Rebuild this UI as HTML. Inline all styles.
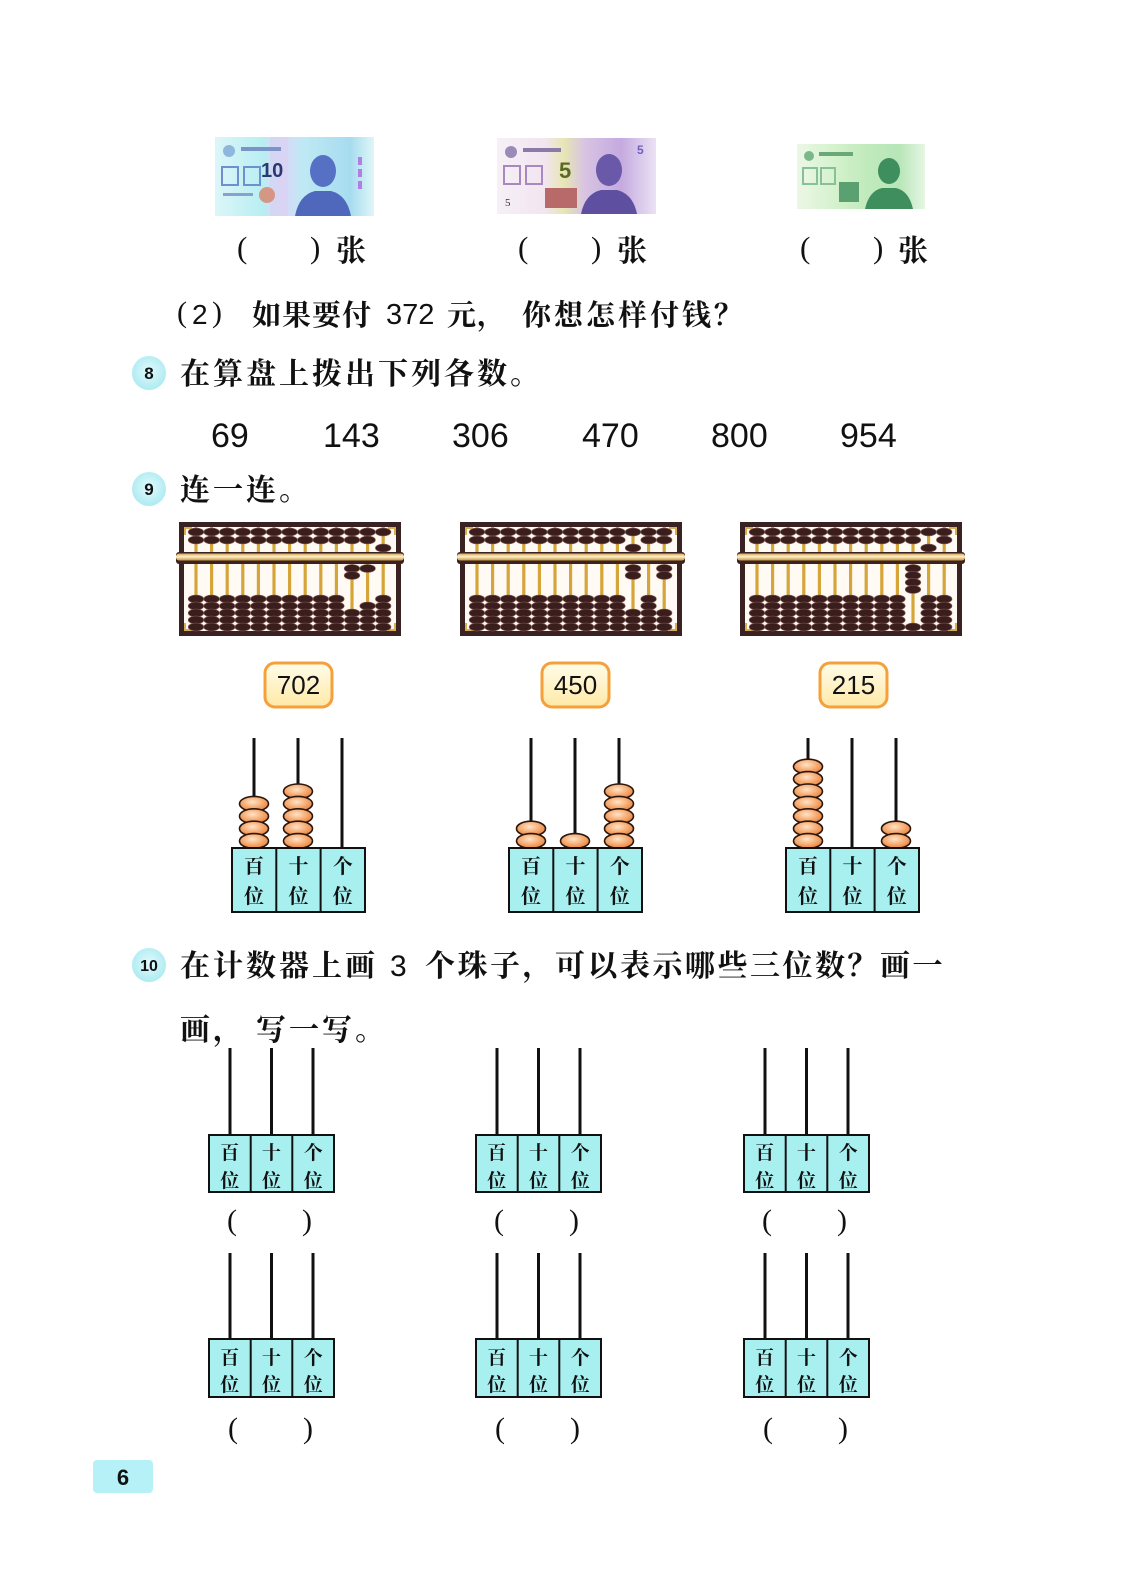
<!DOCTYPE html>
<html><head><meta charset="utf-8"><style>
html,body{margin:0;padding:0;background:#fff;}
body{width:1128px;height:1582px;position:relative;overflow:hidden;}
svg{position:absolute;left:0;top:0;}
.c{font-family:"Liberation Serif","Noto Serif CJK SC",serif;font-weight:700;fill:#111;}
.s{font-family:"Liberation Sans",sans-serif;fill:#111;}
.p{font-family:"Liberation Serif",serif;fill:#111;}
</style></head><body>
<svg width="1128" height="1582" viewBox="0 0 1128 1582">
<defs>
<linearGradient id="bm" x1="0" y1="0" x2="0" y2="1"><stop offset="0" stop-color="#d4a651"/><stop offset="0.45" stop-color="#fff1cc"/><stop offset="1" stop-color="#c8963e"/></linearGradient>
<radialGradient id="cb" cx="0.45" cy="0.38" r="0.65"><stop offset="0" stop-color="#ffe4c8"/><stop offset="0.55" stop-color="#f6ab72"/><stop offset="1" stop-color="#e5803c"/></radialGradient>
<linearGradient id="bg" x1="0" y1="0" x2="0" y2="1"><stop offset="0" stop-color="#fffcea"/><stop offset="1" stop-color="#ffe9a6"/></linearGradient>
<radialGradient id="cir" cx="0.5" cy="0.45" r="0.6"><stop offset="0" stop-color="#e2fbfd"/><stop offset="1" stop-color="#a8e9f0"/></radialGradient>
<linearGradient id="n1" x1="0" y1="0" x2="1" y2="0"><stop offset="0" stop-color="#dcf6f8"/><stop offset="0.3" stop-color="#b9eef2"/><stop offset="0.42" stop-color="#dcd6f6"/><stop offset="0.55" stop-color="#bfe9f4"/><stop offset="0.85" stop-color="#a6dcef"/><stop offset="1" stop-color="#e0f6f8"/></linearGradient>
<linearGradient id="n2" x1="0" y1="0" x2="1" y2="0"><stop offset="0" stop-color="#f6f0f6"/><stop offset="0.3" stop-color="#f2e5f0"/><stop offset="0.42" stop-color="#e7e6b4"/><stop offset="0.55" stop-color="#d8c4e2"/><stop offset="0.78" stop-color="#c4aae0"/><stop offset="1" stop-color="#ebe2f4"/></linearGradient>
<linearGradient id="n3" x1="0" y1="0" x2="1" y2="0"><stop offset="0" stop-color="#ecf7e6"/><stop offset="0.3" stop-color="#d4f2cc"/><stop offset="0.55" stop-color="#c0eabc"/><stop offset="0.8" stop-color="#b8e6b8"/><stop offset="1" stop-color="#e6f6e4"/></linearGradient>
<ellipse id="b" cx="0" cy="0" rx="7.8" ry="4" fill="#3a1d1d" stroke="#8a605a" stroke-width="0.6"/>
<ellipse id="cbd" cx="0" cy="0" rx="14.5" ry="7.4" fill="url(#cb)" stroke="#2b160c" stroke-width="1.6"/>
<g id="rd"><use href="#b" y="10"/><use href="#b" y="18"/><use href="#b" y="77"/><use href="#b" y="84"/><use href="#b" y="91"/><use href="#b" y="98"/><use href="#b" y="105"/></g>
<g id="abase">
<rect x="0" y="0" width="222" height="114" fill="#3b2222"/>
<rect x="5" y="5" width="212" height="104" fill="#fffbf4"/>
<g fill="#d6a53a">
<rect x="15.4" y="5" width="3.2" height="104"/><rect x="31" y="5" width="3.2" height="104"/><rect x="46.6" y="5" width="3.2" height="104"/><rect x="62.2" y="5" width="3.2" height="104"/><rect x="77.8" y="5" width="3.2" height="104"/><rect x="93.4" y="5" width="3.2" height="104"/><rect x="109" y="5" width="3.2" height="104"/><rect x="124.6" y="5" width="3.2" height="104"/><rect x="140.2" y="5" width="3.2" height="104"/><rect x="155.8" y="5" width="3.2" height="104"/><rect x="171.4" y="5" width="3.2" height="104"/><rect x="187" y="5" width="3.2" height="104"/><rect x="202.6" y="5" width="3.2" height="104"/>
</g>
<rect x="-3" y="30" width="228" height="12" rx="3" fill="#3b2222"/>
<rect x="-3" y="31.5" width="228" height="7" rx="3" fill="url(#bm)"/>
<g fill="#d8ae55"><path d="M5 5h8v2h-6v6h-2z"/><path d="M217 5h-8v2h6v6h2z"/><path d="M5 109h8v-2h-6v-6h-2z"/><path d="M217 109h-8v-2h6v-6h2z"/></g>
<use href="#rd" x="17"/><use href="#rd" x="32.6"/><use href="#rd" x="48.2"/><use href="#rd" x="63.8"/><use href="#rd" x="79.4"/><use href="#rd" x="95"/><use href="#rd" x="110.6"/><use href="#rd" x="126.2"/><use href="#rd" x="141.8"/><use href="#rd" x="157.4"/>
</g>
</defs>

<!-- banknotes -->
<g transform="translate(215,137)">
<rect width="159" height="79" fill="url(#n1)"/>
<rect x="55" y="0" width="18" height="79" fill="#d8d0f4" opacity="0.6"/>
<circle cx="14" cy="14" r="6" fill="#8fb6dc"/>
<rect x="26" y="10" width="40" height="4" fill="#7b94c8"/>
<rect x="7" y="30" width="16" height="18" fill="none" stroke="#6f8fcf" stroke-width="2"/>
<rect x="29" y="30" width="16" height="18" fill="none" stroke="#6f8fcf" stroke-width="2"/>
<text x="46" y="40" font-family="Liberation Sans" font-weight="700" font-size="20" fill="#2a3a70">10</text>
<circle cx="52" cy="58" r="8" fill="#d8826a" opacity="0.8"/>
<rect x="8" y="56" width="30" height="3" fill="#8aa0d0"/>
<path d="M80 79 Q84 58 100 54 L116 54 Q132 58 136 79 Z" fill="#4f68bc"/>
<ellipse cx="108" cy="34" rx="13" ry="16" fill="#5670c4"/>
<rect x="143" y="20" width="4" height="8" fill="#b080e0"/><rect x="143" y="32" width="4" height="8" fill="#b080e0"/><rect x="143" y="44" width="4" height="8" fill="#b080e0"/>
</g>
<g transform="translate(497,138)">
<rect width="159" height="76" fill="url(#n2)"/>
<circle cx="14" cy="14" r="6" fill="#9a8ab8"/>
<rect x="26" y="10" width="38" height="4" fill="#8a7aa8"/>
<rect x="7" y="28" width="16" height="18" fill="none" stroke="#a888c0" stroke-width="2"/>
<rect x="29" y="28" width="16" height="18" fill="none" stroke="#a888c0" stroke-width="2"/>
<text x="62" y="40" font-family="Liberation Sans" font-weight="700" font-size="22" fill="#5a6a20">5</text>
<rect x="48" y="50" width="32" height="20" fill="#b86a6a"/>
<text x="8" y="68" font-family="Liberation Serif" font-size="11" fill="#333">5</text>
<path d="M84 76 Q88 56 104 52 L120 52 Q136 56 140 76 Z" fill="#5e4fa0"/>
<ellipse cx="112" cy="32" rx="13" ry="16" fill="#6a58a8"/>
<text x="140" y="16" font-family="Liberation Sans" font-weight="700" font-size="12" fill="#7060c0">5</text>
</g>
<g transform="translate(797,144)">
<rect width="128" height="65" fill="url(#n3)"/>
<circle cx="12" cy="12" r="5" fill="#7ab88a"/>
<rect x="22" y="8" width="34" height="4" fill="#6aa87a"/>
<rect x="6" y="24" width="14" height="16" fill="none" stroke="#88c098" stroke-width="2"/>
<rect x="24" y="24" width="14" height="16" fill="none" stroke="#88c098" stroke-width="2"/>
<rect x="42" y="38" width="20" height="20" fill="#5aa070"/>
<path d="M68 65 Q72 47 85 44 L99 44 Q112 47 116 65 Z" fill="#3f8e5e"/>
<ellipse cx="92" cy="27" rx="11" ry="13" fill="#3f8e5e"/>
</g>

<!-- ( ) 张 -->
<g class="p" font-size="31">
<text x="237" y="258">(</text><text x="310" y="258">)</text>
<text x="518" y="258">(</text><text x="591" y="258">)</text>
<text x="800" y="258">(</text><text x="873" y="258">)</text>
</g>
<g class="c" font-size="30">
<text x="336" y="261">张</text><text x="617" y="261">张</text><text x="898" y="261">张</text>
</g>

<!-- (2) row -->
<text class="p" font-size="30" x="177" y="322">(</text>
<text class="s" font-size="28" x="192" y="324">2</text>
<text class="p" font-size="30" x="212" y="322">)</text>
<text class="c" font-size="29" x="252 282 312 342" y="325">如果要付</text>
<text class="s" font-size="29" x="386" y="324">372</text>
<text class="c" font-size="29" x="447 477 522 554 586 618 650 682 714" y="325">元，你想怎样付钱？</text>

<!-- 8 -->
<circle cx="149" cy="373" r="17" fill="url(#cir)"/>
<text class="s" font-weight="700" font-size="17" x="149" y="379" text-anchor="middle">8</text>
<text class="c" font-size="30" x="180 213 246 279 312 345 378 411 444 477 510" y="384">在算盘上拨出下列各数。</text>

<g class="s" font-size="34">
<text x="211" y="447">69</text><text x="323" y="447">143</text><text x="452" y="447">306</text><text x="582" y="447">470</text><text x="711" y="447">800</text><text x="840" y="447">954</text>
</g>

<!-- 9 -->
<circle cx="149" cy="489" r="17" fill="url(#cir)"/>
<text class="s" font-weight="700" font-size="17" x="149" y="495" text-anchor="middle">9</text>
<text class="c" font-size="30" x="180 213 246 279" y="500">连一连。</text>

<!-- abacuses -->
<g transform="translate(179,522)">
<use href="#abase"/>
<use href="#b" x="173" y="10"/><use href="#b" x="173" y="18"/><use href="#b" x="173" y="46.5"/><use href="#b" x="173" y="53.5"/><use href="#b" x="173" y="91"/><use href="#b" x="173" y="98"/><use href="#b" x="173" y="105"/>
<use href="#b" x="188.6" y="10"/><use href="#b" x="188.6" y="18"/><use href="#b" x="188.6" y="46.5"/><use href="#b" x="188.6" y="84"/><use href="#b" x="188.6" y="91"/><use href="#b" x="188.6" y="98"/><use href="#b" x="188.6" y="105"/>
<use href="#b" x="204.2" y="10"/><use href="#b" x="204.2" y="26"/><use href="#b" x="204.2" y="77"/><use href="#b" x="204.2" y="84"/><use href="#b" x="204.2" y="91"/><use href="#b" x="204.2" y="98"/><use href="#b" x="204.2" y="105"/>
</g>
<g transform="translate(460,522)">
<use href="#abase"/>
<use href="#b" x="173" y="10"/><use href="#b" x="173" y="26"/><use href="#b" x="173" y="46.5"/><use href="#b" x="173" y="53.5"/><use href="#b" x="173" y="91"/><use href="#b" x="173" y="98"/><use href="#b" x="173" y="105"/>
<use href="#rd" x="188.6"/>
<use href="#b" x="204.2" y="10"/><use href="#b" x="204.2" y="18"/><use href="#b" x="204.2" y="46.5"/><use href="#b" x="204.2" y="53.5"/><use href="#b" x="204.2" y="91"/><use href="#b" x="204.2" y="98"/><use href="#b" x="204.2" y="105"/>
</g>
<g transform="translate(740,522)">
<use href="#abase"/>
<use href="#b" x="173" y="10"/><use href="#b" x="173" y="18"/><use href="#b" x="173" y="46.5"/><use href="#b" x="173" y="53.5"/><use href="#b" x="173" y="60.5"/><use href="#b" x="173" y="67.5"/><use href="#b" x="173" y="105"/>
<use href="#b" x="188.6" y="10"/><use href="#b" x="188.6" y="26"/><use href="#b" x="188.6" y="77"/><use href="#b" x="188.6" y="84"/><use href="#b" x="188.6" y="91"/><use href="#b" x="188.6" y="98"/><use href="#b" x="188.6" y="105"/>
<use href="#rd" x="204.2"/>
</g>

<g transform="translate(0,2)">
<!-- number badges -->
<g stroke="#f5a03a" stroke-width="3" fill="url(#bg)">
<rect x="265" y="661" width="67" height="44" rx="10"/>
<rect x="542" y="661" width="67" height="44" rx="10"/>
<rect x="820" y="661" width="67" height="44" rx="10"/>
</g>
<g class="s" font-size="26" text-anchor="middle">
<text x="298.5" y="692">702</text><text x="575.5" y="692">450</text><text x="853.5" y="692">215</text>
</g>

<!-- section 9 counters -->
<g stroke="#111" stroke-width="3">
<line x1="254" y1="736" x2="254" y2="846"/><line x1="298" y1="736" x2="298" y2="846"/><line x1="342" y1="736" x2="342" y2="846"/>
<line x1="531" y1="736" x2="531" y2="846"/><line x1="575" y1="736" x2="575" y2="846"/><line x1="619" y1="736" x2="619" y2="846"/>
<line x1="808" y1="736" x2="808" y2="846"/><line x1="852" y1="736" x2="852" y2="846"/><line x1="896" y1="736" x2="896" y2="846"/>
</g>
<g>
<use href="#cbd" x="254" y="801.8"/><use href="#cbd" x="254" y="814.2"/><use href="#cbd" x="254" y="826.6"/><use href="#cbd" x="254" y="839"/>
<use href="#cbd" x="298" y="789.4"/><use href="#cbd" x="298" y="801.8"/><use href="#cbd" x="298" y="814.2"/><use href="#cbd" x="298" y="826.6"/><use href="#cbd" x="298" y="839"/>
<use href="#cbd" x="531" y="826.6"/><use href="#cbd" x="531" y="839"/>
<use href="#cbd" x="575" y="839"/>
<use href="#cbd" x="619" y="789.4"/><use href="#cbd" x="619" y="801.8"/><use href="#cbd" x="619" y="814.2"/><use href="#cbd" x="619" y="826.6"/><use href="#cbd" x="619" y="839"/>
<use href="#cbd" x="808" y="764.6"/><use href="#cbd" x="808" y="777"/><use href="#cbd" x="808" y="789.4"/><use href="#cbd" x="808" y="801.8"/><use href="#cbd" x="808" y="814.2"/><use href="#cbd" x="808" y="826.6"/><use href="#cbd" x="808" y="839"/>
<use href="#cbd" x="896" y="826.6"/><use href="#cbd" x="896" y="839"/>
</g>
<g fill="#a8eff0" stroke="#111" stroke-width="2">
<rect x="232" y="846" width="133" height="64"/><line x1="276.3" y1="846" x2="276.3" y2="910"/><line x1="320.6" y1="846" x2="320.6" y2="910"/>
<rect x="509" y="846" width="133" height="64"/><line x1="553.3" y1="846" x2="553.3" y2="910"/><line x1="597.6" y1="846" x2="597.6" y2="910"/>
<rect x="786" y="846" width="133" height="64"/><line x1="830.3" y1="846" x2="830.3" y2="910"/><line x1="874.6" y1="846" x2="874.6" y2="910"/>
</g>
<g class="c" font-size="20" text-anchor="middle">
<text x="254" y="871">百</text><text x="254" y="901">位</text><text x="298.5" y="871">十</text><text x="298.5" y="901">位</text><text x="342.8" y="871">个</text><text x="342.8" y="901">位</text>
<text x="531" y="871">百</text><text x="531" y="901">位</text><text x="575.5" y="871">十</text><text x="575.5" y="901">位</text><text x="619.8" y="871">个</text><text x="619.8" y="901">位</text>
<text x="808" y="871">百</text><text x="808" y="901">位</text><text x="852.5" y="871">十</text><text x="852.5" y="901">位</text><text x="896.8" y="871">个</text><text x="896.8" y="901">位</text>
</g>
</g>

<!-- 10 -->
<circle cx="149" cy="965" r="17" fill="url(#cir)"/>
<text class="s" font-weight="700" font-size="16" x="149" y="971" text-anchor="middle">10</text>
<text class="c" font-size="30" x="180 213 246 279 312 345" y="976">在计数器上画</text>
<text class="s" font-size="30" x="390" y="976">3</text>
<text class="c" font-size="30" x="425 457.5 490 522.5 555 587.5 620 652.5 685 717.5 750 782.5 815 847.5 880 912.5" y="976">个珠子，可以表示哪些三位数？画一</text>
<text class="c" font-size="30" x="180 213 256 289 322 355" y="1040">画，写一写。</text>

<!-- section 10 counters -->
<g stroke="#111" stroke-width="3">
<line x1="230" y1="1048" x2="230" y2="1135"/><line x1="271.5" y1="1048" x2="271.5" y2="1135"/><line x1="313" y1="1048" x2="313" y2="1135"/>
<line x1="497" y1="1048" x2="497" y2="1135"/><line x1="538.5" y1="1048" x2="538.5" y2="1135"/><line x1="580" y1="1048" x2="580" y2="1135"/>
<line x1="765" y1="1048" x2="765" y2="1135"/><line x1="806.5" y1="1048" x2="806.5" y2="1135"/><line x1="848" y1="1048" x2="848" y2="1135"/>
<line x1="230" y1="1253" x2="230" y2="1339"/><line x1="271.5" y1="1253" x2="271.5" y2="1339"/><line x1="313" y1="1253" x2="313" y2="1339"/>
<line x1="497" y1="1253" x2="497" y2="1339"/><line x1="538.5" y1="1253" x2="538.5" y2="1339"/><line x1="580" y1="1253" x2="580" y2="1339"/>
<line x1="765" y1="1253" x2="765" y2="1339"/><line x1="806.5" y1="1253" x2="806.5" y2="1339"/><line x1="848" y1="1253" x2="848" y2="1339"/>
</g>
<g fill="#a8eff0" stroke="#111" stroke-width="2">
<rect x="209" y="1135" width="125" height="57"/><line x1="250.7" y1="1135" x2="250.7" y2="1192"/><line x1="292.3" y1="1135" x2="292.3" y2="1192"/>
<rect x="476" y="1135" width="125" height="57"/><line x1="517.7" y1="1135" x2="517.7" y2="1192"/><line x1="559.3" y1="1135" x2="559.3" y2="1192"/>
<rect x="744" y="1135" width="125" height="57"/><line x1="785.7" y1="1135" x2="785.7" y2="1192"/><line x1="827.3" y1="1135" x2="827.3" y2="1192"/>
<rect x="209" y="1339" width="125" height="58"/><line x1="250.7" y1="1339" x2="250.7" y2="1397"/><line x1="292.3" y1="1339" x2="292.3" y2="1397"/>
<rect x="476" y="1339" width="125" height="58"/><line x1="517.7" y1="1339" x2="517.7" y2="1397"/><line x1="559.3" y1="1339" x2="559.3" y2="1397"/>
<rect x="744" y="1339" width="125" height="58"/><line x1="785.7" y1="1339" x2="785.7" y2="1397"/><line x1="827.3" y1="1339" x2="827.3" y2="1397"/>
</g>
<g class="c" font-size="19" text-anchor="middle">
<text x="229.8" y="1159">百</text><text x="229.8" y="1187">位</text><text x="271.5" y="1159">十</text><text x="271.5" y="1187">位</text><text x="313.2" y="1159">个</text><text x="313.2" y="1187">位</text>
<text x="496.8" y="1159">百</text><text x="496.8" y="1187">位</text><text x="538.5" y="1159">十</text><text x="538.5" y="1187">位</text><text x="580.2" y="1159">个</text><text x="580.2" y="1187">位</text>
<text x="764.8" y="1159">百</text><text x="764.8" y="1187">位</text><text x="806.5" y="1159">十</text><text x="806.5" y="1187">位</text><text x="848.2" y="1159">个</text><text x="848.2" y="1187">位</text>
<text x="229.8" y="1364">百</text><text x="229.8" y="1391">位</text><text x="271.5" y="1364">十</text><text x="271.5" y="1391">位</text><text x="313.2" y="1364">个</text><text x="313.2" y="1391">位</text>
<text x="496.8" y="1364">百</text><text x="496.8" y="1391">位</text><text x="538.5" y="1364">十</text><text x="538.5" y="1391">位</text><text x="580.2" y="1364">个</text><text x="580.2" y="1391">位</text>
<text x="764.8" y="1364">百</text><text x="764.8" y="1391">位</text><text x="806.5" y="1364">十</text><text x="806.5" y="1391">位</text><text x="848.2" y="1364">个</text><text x="848.2" y="1391">位</text>
</g>
<g class="p" font-size="30">
<text x="227" y="1230">(</text><text x="302" y="1230">)</text>
<text x="494" y="1230">(</text><text x="569" y="1230">)</text>
<text x="762" y="1230">(</text><text x="837" y="1230">)</text>
<text x="228" y="1438">(</text><text x="303" y="1438">)</text>
<text x="495" y="1438">(</text><text x="570" y="1438">)</text>
<text x="763" y="1438">(</text><text x="838" y="1438">)</text>
</g>

<!-- page number -->
<rect x="93" y="1460" width="60" height="33" rx="4" fill="#b5f1f6"/>
<text class="s" font-weight="700" font-size="22" x="123" y="1485" text-anchor="middle">6</text>
</svg>
</body></html>
